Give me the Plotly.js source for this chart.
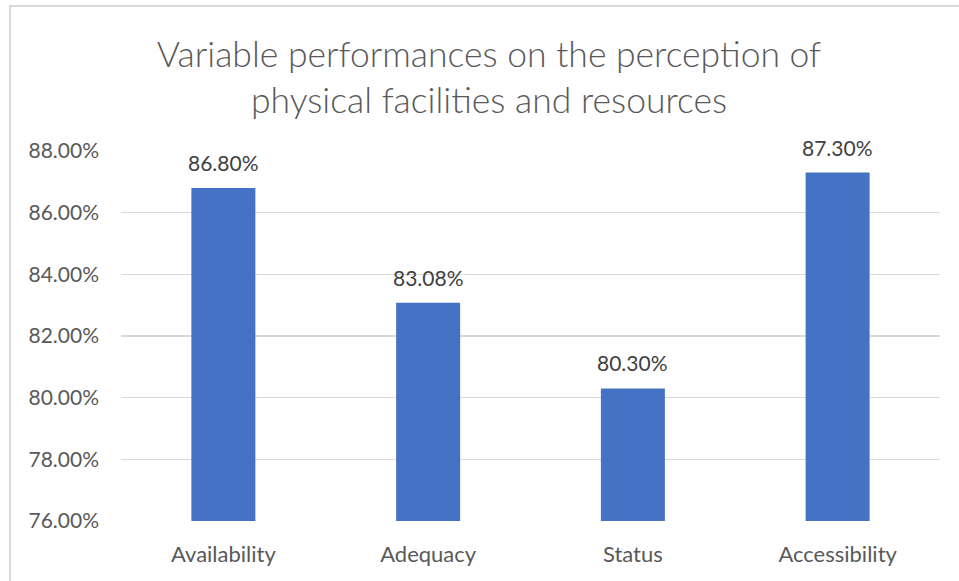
<!DOCTYPE html>
<html>
<head>
<meta charset="utf-8">
<script src="https://cdn.plot.ly/plotly-3.0.1.min.js"></script>
<style>
html,body{margin:0;padding:0;background:#fff;}
#chart{width:959px;height:581px;position:absolute;left:0;top:0;}
#frame{position:absolute;left:9px;top:5px;width:1000px;height:700px;border-left:2px solid #d9d9d9;border-top:2px solid #d9d9d9;pointer-events:none;}
</style>
</head>
<body>
<div id="chart"></div>
<div id="frame"></div>
<script>
const categories = ["Availability", "Adequacy", "Status", "Accessibility"];
const values = [86.80, 83.08, 80.30, 87.30];
const valueLabels = ["86.80%", "83.08%", "80.30%", "87.30%"];
const yTicks = [76, 78, 80, 82, 84, 86, 88];
const titleText = "Variable performances on the perception of<br>physical facilities and resources";

const fontFam = "Lato, 'Open Sans', sans-serif";

const trace = {
  type: "bar",
  x: categories,
  y: values,
  marker: {color: "#4472C4", line: {width: 0}},
  hoverinfo: "skip"
};

const annotations = categories.map((c, i) => ({
  x: c, y: values[i], xref: "x", yref: "y",
  text: valueLabels[i], showarrow: false,
  yanchor: "bottom", yshift: 11,
  font: {family: fontFam, size: 21, color: "#404040"}
}));

const layout = {
  width: 959, height: 581,
  paper_bgcolor: "#ffffff", plot_bgcolor: "#ffffff",
  margin: {l: 121, r: 19, t: 151, b: 60, pad: 0},
  bargap: 0.6875,
  showlegend: false,
  title: {
    text: titleText,
    x: 489 / 959, xanchor: "center", xref: "container",
    y: 1 - 67 / 581, yanchor: "middle", yref: "container",
    font: {family: fontFam, size: 35.5, color: "#595959", weight: 300}
  },
  xaxis: {
    type: "category",
    showgrid: false, zeroline: false, showline: false,
    ticks: "", ticklabelstandoff: 18,
    tickfont: {family: fontFam, size: 22, color: "#595959"}
  },
  yaxis: {
    range: [76, 88],
    tickvals: yTicks,
    ticktext: yTicks.map(v => v.toFixed(2) + "%"),
    showgrid: true, gridcolor: "#d9d9d9", gridwidth: 1.3,
    zeroline: false, showline: false, ticks: "",
    ticklabelstandoff: 21,
    tickfont: {family: fontFam, size: 21, color: "#595959"}
  },
  annotations: annotations
};

Plotly.newPlot("chart", [trace], layout, {displayModeBar: false, staticPlot: true});
</script>
</body>
</html>
